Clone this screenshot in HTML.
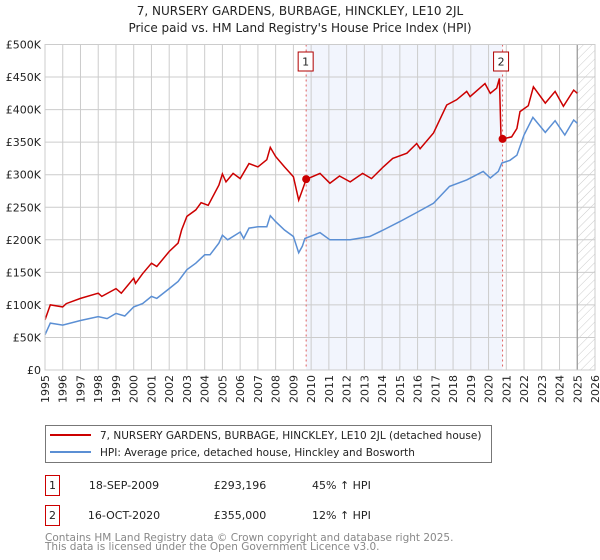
<!DOCTYPE html>
<html><head><meta charset="utf-8"><style>
body{margin:0;background:#fff;font-family:"DejaVu Sans","Liberation Sans",sans-serif}
svg{display:block}
</style></head><body>
<svg id="c" width="600" height="560" xmlns="http://www.w3.org/2000/svg" font-family="DejaVu Sans, Liberation Sans, sans-serif">
<defs><pattern id="hatch" width="6" height="6" patternUnits="userSpaceOnUse" patternTransform="rotate(45)"><line x1="0" y1="0" x2="0" y2="6" stroke="#ccc" stroke-width="1"/></pattern></defs>
<text x="300" y="15" text-anchor="middle" font-size="12" fill="#222">7, NURSERY GARDENS, BURBAGE, HINCKLEY, LE10 2JL</text>
<text x="300" y="32" text-anchor="middle" font-size="12" fill="#222">Price paid vs. HM Land Registry's House Price Index (HPI)</text>
<g id="plot"></g>
<g>
<rect x="45.5" y="425.5" width="446" height="37" fill="#fff" stroke="#777"/>
<line x1="50" y1="435" x2="91" y2="435" stroke="#cc0000" stroke-width="2"/>
<text x="100" y="439" font-size="10.5" fill="#222">7, NURSERY GARDENS, BURBAGE, HINCKLEY, LE10 2JL (detached house)</text>
<line x1="50" y1="452" x2="91" y2="452" stroke="#5b8fd4" stroke-width="2"/>
<text x="100" y="456" font-size="10.5" fill="#222">HPI: Average price, detached house, Hinckley and Bosworth</text>
</g>
<g font-size="11" fill="#222">
<rect x="45.5" y="475.5" width="14" height="20" fill="none" stroke="#cc0000"/>
<text x="52.5" y="489" text-anchor="middle">1</text>
<text x="124" y="489" text-anchor="middle">18-SEP-2009</text>
<text x="240" y="489" text-anchor="middle">£293,196</text>
<text x="312" y="489">45% ↑ HPI</text>
<rect x="45.5" y="505.5" width="14" height="20" fill="none" stroke="#cc0000"/>
<text x="52.5" y="519" text-anchor="middle">2</text>
<text x="124" y="519" text-anchor="middle">16-OCT-2020</text>
<text x="240" y="519" text-anchor="middle">£355,000</text>
<text x="312" y="519">12% ↑ HPI</text>
</g>
<text x="45" y="541" font-size="10.5" fill="#888">Contains HM Land Registry data © Crown copyright and database right 2025.</text>
<text x="45" y="550" font-size="10.5" fill="#888">This data is licensed under the Open Government Licence v3.0.</text>
</svg>
<script>
const hpiYears=[1995.0,1995.3,1996.0,1997.0,1998.0,1998.5,1999.0,1999.5,2000.0,2000.5,2001.0,2001.3,2002.0,2002.5,2003.0,2003.5,2004.0,2004.3,2004.8,2005.0,2005.3,2006.0,2006.2,2006.5,2007.0,2007.5,2007.7,2008.0,2008.5,2009.0,2009.3,2009.5,2009.65,2010.5,2011.06,2012.2,2013.3,2014.07,2015.0,2015.95,2016.9,2017.8,2018.77,2019.7,2020.1,2020.55,2020.75,2021.2,2021.6,2022.0,2022.5,2023.2,2023.75,2024.3,2024.8,2025.0];
const hpiValues=[54,72,69,76,82,79,87,83,97,102,113,110,125,136,154,164,177,177,195,207,200,212,202,218,220,220,237,228,215,205,180,190,202,211,200,200,205,215,228,242,256,282,292,305,295,305,318,322,330,361,388,365,383,361,384,379];
const propYears=[1995.0,1995.3,1996.0,1996.2,1997.0,1998.0,1998.2,1999.0,1999.3,2000.0,2000.1,2000.5,2001.0,2001.3,2002.0,2002.5,2002.7,2003.0,2003.5,2003.8,2004.2,2004.8,2005.0,2005.2,2005.6,2006.0,2006.5,2007.0,2007.5,2007.7,2008.0,2008.5,2009.0,2009.3,2009.5,2009.72,2010.5,2011.06,2011.6,2012.2,2012.9,2013.4,2014.07,2014.6,2015.4,2015.95,2016.14,2016.9,2017.64,2018.2,2018.77,2018.96,2019.8,2020.1,2020.46,2020.61,2020.7,2020.79,2021.3,2021.6,2021.77,2022.24,2022.53,2023.2,2023.75,2024.22,2024.8,2025.0];
const propValues=[77,100,97,102,110,118,113,125,118,141,133,148,164,159,182,195,215,236,246,257,253,284,301,289,302,294,317,312,323,342,328,312,297,261,276,293,302,287,298,289,302,294,312,325,333,348,340,364,407,415,428,420,440,425,433,448,358,355,358,371,397,406,435,410,428,405,430,425];
const saleYears=[2009.72,2020.79];
const saleValues=[293.196,355];
const saleLabels=["1","2"];
const yTicks=[0,50,100,150,200,250,300,350,400,450,500];
const yTickLabels=["£0","£50K","£100K","£150K","£200K","£250K","£300K","£350K","£400K","£450K","£500K"];
const xTicks=[1995,1996,1997,1998,1999,2000,2001,2002,2003,2004,2005,2006,2007,2008,2009,2010,2011,2012,2013,2014,2015,2016,2017,2018,2019,2020,2021,2022,2023,2024,2025,2026];

const L=45,R=595,T=44.5,B=370,X0=1995,X1=2026,YMAX=500,DATA_END=2025.0;
const sx=v=>L+(v-X0)/(X1-X0)*(R-L);
const sy=v=>B-v/YMAX*(B-T);
const NS="http://www.w3.org/2000/svg";
const g=document.getElementById('plot');
function mk(tag,attrs,parent){const e=document.createElementNS(NS,tag);for(const k in attrs)e.setAttribute(k,attrs[k]);(parent||g).appendChild(e);return e;}

let e=mk('rect',{x:sx(saleYears[0]),y:T,width:sx(saleYears[1])-sx(saleYears[0]),height:B-T,fill:'#f2f5fd'});


e=mk('rect',{x:sx(DATA_END),y:T,width:R-sx(DATA_END),height:B-T,fill:'url(#hatch)'});


xTicks.forEach(t=>{const l=mk('line',{x1:sx(t),x2:sx(t),y1:T,y2:B,stroke:'#ccc','stroke-width':1});


const tx=mk('text',{x:0,y:0,transform:`translate(${sx(t)+4},${B+5}) rotate(-90)`,'text-anchor':'end','font-size':11,fill:'#222'});
tx.textContent=t;

});
yTicks.forEach((t,i)=>{const l=mk('line',{x1:L,x2:R,y1:sy(t),y2:sy(t),stroke:'#ccc','stroke-width':1});


const tx=mk('text',{x:L-4,y:sy(t)+4,'text-anchor':'end','font-size':11,fill:'#222'});
tx.textContent=yTickLabels[i];

});
e=mk('line',{x1:sx(DATA_END),x2:sx(DATA_END),y1:T,y2:B,stroke:'#999','stroke-width':1.2});


saleYears.forEach((y,i)=>{const l=mk('line',{x1:sx(y),x2:sx(y),y1:T,y2:B,stroke:'#e06060','stroke-dasharray':'2,3','stroke-width':1});

});
const pts=(xs,vs)=>xs.map((x,i)=>sx(x).toFixed(1)+','+sy(vs[i]).toFixed(1)).join(' ');
e=mk('polyline',{points:pts(hpiYears,hpiValues),fill:'none',stroke:'#5b8fd4','stroke-width':1.5});


e=mk('polyline',{points:pts(propYears,propValues),fill:'none',stroke:'#cc0000','stroke-width':1.5});


saleYears.forEach((y,i)=>{const c=mk('circle',{cx:sx(y),cy:sy(saleValues[i]),r:4,fill:'#cc0000'});


const bx=sx(y)-8-(i==1?1:0);
const r=mk('rect',{x:bx,y:52,width:15,height:19,fill:'#fff',stroke:'#b00000'});


const t=mk('text',{x:bx+7.5,y:65.5,'text-anchor':'middle','font-size':11,fill:'#222'});
t.textContent=saleLabels[i];

});
e=mk('rect',{x:L,y:T,width:R-L,height:B-T,fill:'none',stroke:'#ccc'});


</script>
</body></html>
